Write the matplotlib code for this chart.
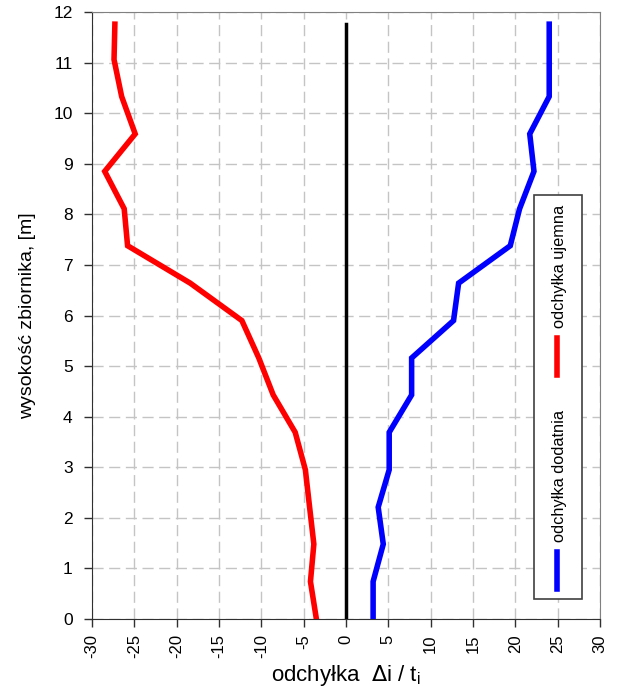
import matplotlib

matplotlib.use("Agg")
import matplotlib.pyplot as plt  # noqa: E402
from matplotlib.lines import Line2D  # noqa: E402
from matplotlib.patches import Rectangle  # noqa: E402

plt.rcParams["font.family"] = ["Liberation Sans", "DejaVu Sans"]

# height of the tank [m] and deviations at each level
height = [0.0, 0.74, 1.48, 2.21, 2.95, 3.69, 4.43, 5.16, 5.90, 6.64,
          7.38, 8.11, 8.85, 9.59, 10.33, 11.06, 11.76]
dev_neg = [-3.5, -4.2, -3.8, -4.3, -4.8, -6.0, -8.6, -10.3, -12.3, -18.4,
           -25.8, -26.2, -28.5, -24.9, -26.5, -27.4, -27.3]
dev_pos = [3.2, 3.2, 4.4, 3.8, 5.1, 5.1, 7.75, 7.75, 12.7, 13.3,
           19.4, 20.5, 22.2, 21.7, 24.0, 24.0, 24.0]
zero_line = [0.0, 0.0]
zero_span = [0.0, 11.76]

xticks = list(range(-30, 31, 5))
yticks = list(range(0, 13))

fig = plt.figure(figsize=(6.23, 6.91), dpi=100)
ax = fig.add_axes([0.1477, 0.1042, 0.8154, 0.8784])

ax.plot(dev_neg, height, color="#ff0000", lw=4, solid_joinstyle="miter")
ax.plot(dev_pos, height, color="#0000ff", lw=4, solid_joinstyle="miter")
ax.plot(zero_line, zero_span, color="black", lw=2.5)

ax.set_xlim(-30, 30)
ax.set_ylim(0, 12)
ax.set_xticks(xticks)
ax.set_yticks(yticks)
ax.set_xticklabels([str(v) for v in xticks], rotation=90, fontsize=12)
ax.tick_params(axis="y", labelsize=12.5, pad=8)
ax.tick_params(axis="x", pad=5)
ax.tick_params(direction="out", length=6, width=1, color="#303030")
ax.grid(True, color="#c4c4c4", lw=1, ls=(0, (8, 4)))
ax.set_axisbelow(True)

for side in ("left", "bottom"):
    ax.spines[side].set_color("#303030")
for side in ("top", "right"):
    ax.spines[side].set_color("#808080")

ax.set_xlabel("odchyłka  $\\Delta$i / t$_\\mathregular{i}$", fontsize=16,
              labelpad=3)
ax.set_ylabel("wysokość zbiornika, [m]", fontsize=14, labelpad=12)

# vertical legend box, drawn by hand because the text is rotated
box = Rectangle((0.870, 0.033), 0.095, 0.665, transform=ax.transAxes,
                facecolor="white", edgecolor="#404040", lw=1.2, zorder=5)
ax.add_patch(box)
for color, (y0, y1), ty, label in [
    ("#0000ff", (0.049, 0.110), 0.127, "odchyłka dodatnia"),
    ("#ff0000", (0.402, 0.463), 0.479, "odchyłka ujemna"),
]:
    ax.add_line(Line2D([0.916, 0.916], [y0, y1], color=color, lw=4,
                       transform=ax.transAxes, zorder=6))
    ax.text(0.921, ty, label, rotation=90, ha="center", va="bottom",
            fontsize=11.8, transform=ax.transAxes, zorder=6)

fig.savefig("out.png", dpi=100)
plt.close(fig)
